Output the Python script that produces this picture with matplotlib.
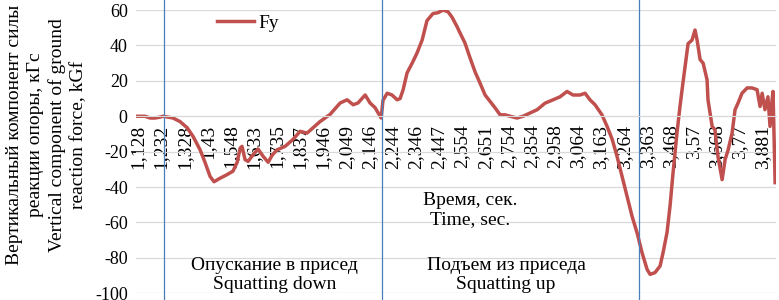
# Вертикальная составляющая силы реакции опоры при приседании
import matplotlib
matplotlib.use('Agg')
import matplotlib.pyplot as plt

plt.rcParams['font.family'] = ['Liberation Serif', 'DejaVu Serif']
plt.rcParams['axes.unicode_minus'] = False

# подписи оси X (время, с) - категориальная ось, подписана каждая N-я точка
time_labels = ['1,128', '1,232', '1,328', '1,43', '1,548', '1,633', '1,735', '1,837',
               '1,946', '2,049', '2,146', '2,244', '2,346', '2,447', '2,554', '2,651',
               '2,754', '2,854', '2,958', '3,064', '3,163', '3,264', '3,363', '3,468',
               '3,57', '3,668', '3,77', '3,881']

# положение точки в единицах подписей (0 = '1,128') и значение Fy, кГс
pos = [-0.09, 0.30, 0.52, 0.73, 0.95, 1.08, 1.51, 1.81, 2.12, 2.38, 2.68, 2.89, 3.11,
       3.28, 3.54, 3.84, 4.10, 4.28, 4.41, 4.49, 4.62, 4.75, 4.97, 5.18, 5.40, 5.62,
       5.79, 6.00, 6.35, 6.70, 7.00, 7.30, 7.56, 7.86, 8.29, 8.73, 9.03, 9.29, 9.50,
       9.81, 10.02, 10.24, 10.50, 10.58, 10.76, 10.97, 11.19, 11.32, 11.45, 11.62,
       11.84, 12.05, 12.27, 12.48, 12.74, 12.96, 13.17, 13.39, 13.56, 13.78, 13.91,
       14.12, 14.34, 14.56, 14.77, 14.99, 15.21, 15.42, 15.64, 15.85, 16.07, 16.37,
       16.63, 16.93, 17.24, 17.58, 17.93, 18.23, 18.53, 18.79, 19.09, 19.31, 19.52,
       19.74, 20.04, 20.26, 20.48, 20.69, 20.91, 21.12, 21.34, 21.56, 21.77, 21.99,
       22.12, 22.33, 22.55, 22.68, 22.85, 22.98, 23.11, 23.28, 23.41, 23.50, 23.63,
       23.76, 23.93, 24.06, 24.15, 24.28, 24.41, 24.58, 24.62, 24.80, 24.92, 25.05,
       25.23, 25.36, 25.49, 25.66, 25.79, 25.92, 26.09, 26.31, 26.52, 26.74, 26.87,
       26.96, 27.08, 27.21, 27.30, 27.39, 27.43, 27.52]
fy = [0, 0, -1, -1, -0.5, 0, -1, -3, -6.5, -11.5, -19, -26, -34,
      -37, -35, -33, -31, -26, -18, -17, -24.5, -25.5, -21.7, -18.5, -22.6, -26,
      -22, -19, -17, -13, -8.5, -9.5, -6.5, -3, 1, 7.5, 9.3, 6.5, 7.5,
      12, 7.5, 4.8, -1, 9, 13, 12, 9.3, 10, 15, 24.5,
      30, 35.7, 43, 54, 58, 58.5, 60, 59, 56, 50.6, 47,
      41.4, 33, 25, 18.8, 12, 8.3, 4.8, 0.8, 0.8, 0, -1,
      0, 1.8, 3.7, 7.4, 9.3, 11, 14, 12, 12, 13, 9.3,
      6.5, 0.8, -5.7, -13, -22.6, -34, -45, -56.5, -66, -77, -86.5,
      -89.3, -88.3, -84.6, -77, -65.7, -50.8, -32, -9.5, 5.5, 15, 28,
      41, 43, 48.7, 43, 32, 30, 20.6, 9.3, -5.7, -7.6, -22.6,
      -35.8, -24.5, -19, -9.5, 3.7, 7.5, 13, 16, 16, 15, 5.5,
      13, 3.7, 11, -5.7, 9.3, 14, -37.5]

# границы фаз движения (в тех же единицах)
phase_bounds = [1.14, 10.53, 21.64]

fig = plt.figure(figsize=(7.79, 3.0), dpi=100)
ax = fig.add_axes([0.1746, 0.0223, 0.8216, 0.9443])

ax.plot(pos, fy, color='#C0504D', linewidth=2.5, label='Fy')

for b in phase_bounds:
    ax.axvline(b, ymin=-0.03, ymax=1.05, color='#4A7EBB', linewidth=0.9, clip_on=False)

# ось X проходит через 0 (set_position сбрасывает тики - поэтому сначала)
for s in ['top', 'right', 'left']:
    ax.spines[s].set_visible(False)
ax.spines['bottom'].set_position(('data', 0))
ax.spines['bottom'].set_color('#D9D9D9')

ax.set_ylim(-100, 60)
ax.set_xlim(-0.09, 27.56)
ax.set_yticks(range(-100, 61, 20))
ax.set_xticks(range(len(time_labels)))
ax.set_xticklabels(time_labels)
ax.tick_params(axis='y', labelsize=13, length=0, pad=6)
ax.tick_params(axis='x', labelsize=14, length=0, pad=6, labelrotation=90)

ax.grid(axis='y', color='#D9D9D9', linewidth=0.9)
ax.set_axisbelow(True)

# подпись оси Y
fig.text(0.0595, 0.55, 'Вертикальный компонент силы\nреакции опоры, кГс\n'
         'Vertical component of ground\nreaction force, kGf',
         rotation=90, ha='center', va='center', fontsize=14, linespacing=1.3)

# подписи оси X и фаз
ax.text(0.522, 0.294, 'Время, сек.\nTime, sec.', transform=ax.transAxes,
        ha='center', va='center', fontsize=14, linespacing=1.1)
ax.text(0.217, 0.065, 'Опускание в присед\nSquatting down', transform=ax.transAxes,
        ha='center', va='center', fontsize=14, linespacing=1.1)
ax.text(0.578, 0.065, 'Подъем из приседа\nSquatting up', transform=ax.transAxes,
        ha='center', va='center', fontsize=14, linespacing=1.1)

ax.legend(loc='center left', bbox_to_anchor=(0.115, 0.955), frameon=False,
          fontsize=14, handlelength=1.9, handletextpad=0.2, borderaxespad=0)

fig.savefig('out.png', dpi=100)
